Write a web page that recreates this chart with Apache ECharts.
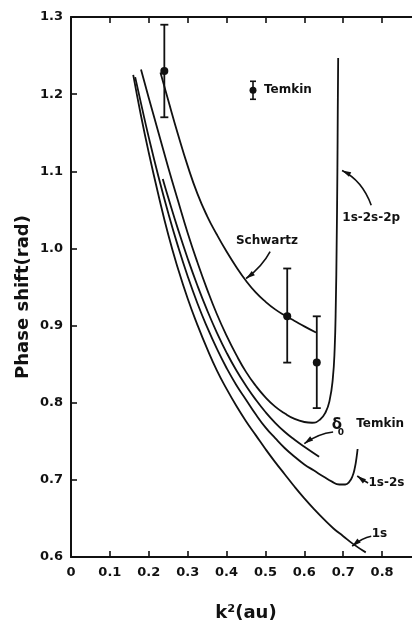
<!DOCTYPE html>
<html>
<head>
<meta charset="utf-8">
<script src="https://cdn.jsdelivr.net/npm/echarts@6/dist/echarts.min.js"></script>
<style>
  html, body { margin: 0; padding: 0; background: #fff; }
  #chart { width: 412px; height: 623px; }
</style>
</head>
<body>
<div id="chart"></div>
<script>
// Phase shift (rad) versus k^2 (au) for several close-coupling approximations
const xTicks = [0, 0.1, 0.2, 0.3, 0.4, 0.5, 0.6, 0.7, 0.8];
const yTicks = [0.6, 0.7, 0.8, 0.9, 1.0, 1.1, 1.2, 1.3];

const curve1s = [
  [0.16, 1.225], [0.18, 1.172], [0.20, 1.124], [0.225, 1.069], [0.25, 1.018],
  [0.275, 0.974], [0.30, 0.935], [0.325, 0.901], [0.35, 0.870], [0.375, 0.842],
  [0.40, 0.818], [0.425, 0.796], [0.45, 0.776], [0.475, 0.758], [0.50, 0.740],
  [0.525, 0.723], [0.55, 0.707], [0.575, 0.691], [0.60, 0.676], [0.625, 0.662],
  [0.65, 0.649], [0.675, 0.637], [0.70, 0.627], [0.725, 0.617], [0.758, 0.606]
];
const curve1s2s = [
  [0.165, 1.222], [0.18, 1.188], [0.20, 1.144], [0.225, 1.093], [0.25, 1.046],
  [0.275, 1.003], [0.30, 0.964], [0.325, 0.929], [0.35, 0.898], [0.375, 0.870],
  [0.40, 0.845], [0.425, 0.823], [0.45, 0.804], [0.475, 0.785], [0.50, 0.768],
  [0.525, 0.754], [0.55, 0.741], [0.575, 0.730], [0.60, 0.720], [0.625, 0.712],
  [0.65, 0.704], [0.67, 0.698], [0.69, 0.694], [0.705, 0.694], [0.715, 0.697],
  [0.724, 0.705], [0.730, 0.716], [0.734, 0.728], [0.737, 0.740]
];
const curveTemkin = [
  [0.236, 1.090], [0.25, 1.066], [0.275, 1.025], [0.30, 0.987], [0.325, 0.952],
  [0.35, 0.920], [0.375, 0.891], [0.40, 0.865], [0.425, 0.842], [0.45, 0.822],
  [0.475, 0.804], [0.50, 0.788], [0.525, 0.774], [0.55, 0.762], [0.575, 0.752],
  [0.60, 0.743], [0.638, 0.730]
];
const curve1s2s2p = [
  [0.18, 1.232], [0.20, 1.195], [0.225, 1.150], [0.25, 1.105], [0.275, 1.062],
  [0.30, 1.020], [0.325, 0.982], [0.35, 0.947], [0.375, 0.915], [0.40, 0.887],
  [0.425, 0.862], [0.45, 0.840], [0.475, 0.822], [0.50, 0.807], [0.525, 0.795],
  [0.55, 0.786], [0.575, 0.779], [0.60, 0.775], [0.62, 0.774], [0.64, 0.778],
  [0.655, 0.788], [0.665, 0.803], [0.673, 0.830], [0.678, 0.870], [0.681, 0.930],
  [0.683, 1.000], [0.685, 1.100], [0.686, 1.180], [0.687, 1.247]
];
const curveSchwartz = [
  [0.23, 1.228], [0.25, 1.192], [0.275, 1.148], [0.30, 1.107], [0.325, 1.071],
  [0.35, 1.042], [0.375, 1.018], [0.40, 0.996], [0.425, 0.976], [0.45, 0.958],
  [0.475, 0.943], [0.50, 0.931], [0.525, 0.921], [0.55, 0.913], [0.575, 0.906],
  [0.60, 0.899], [0.63, 0.891]
];

// Temkin points: k^2, value, lower, upper
const temkinK = [0.24, 0.556, 0.632];
const temkinVal = [1.23, 0.912, 0.852];
const temkinLow = [1.17, 0.852, 0.793];
const temkinHigh = [1.29, 0.974, 0.912];

// Curve labels with leader arrows: text anchor, arrow start, bend, tip (data units)
const notes = [
  { text: 'Schwartz', at: [0.504, 1.010], from: [0.512, 0.996], ctrl: [0.4915, 0.9766], tip: [0.4503, 0.961] },
  { text: '1s-2s-2p', at: [0.772, 1.039], from: [0.772, 1.056], ctrl: [0.749, 1.088], tip: [0.697, 1.101] },
  { text: 'Temkin', delta: [0.684, 0.771], at: [0.795, 0.773], from: [0.674, 0.762], ctrl: [0.636, 0.760], tip: [0.600, 0.747] },
  { text: '1s-2s', at: [0.811, 0.696], from: [0.764, 0.696], ctrl: [0.752, 0.699], tip: [0.736, 0.705] },
  { text: '1s', at: [0.793, 0.630], from: [0.772, 0.627], ctrl: [0.749, 0.625], tip: [0.723, 0.614] }
];
const legendAt = [0.468, 1.205];

const INK = '#111';
const FONT = '"DejaVu Sans", "Liberation Sans", sans-serif';

function lineSeries(name, data) {
  return {
    name: name, type: 'line', data: data, smooth: 0.5, showSymbol: false,
    lineStyle: { color: INK, width: 1.8 }, silent: true, z: 3
  };
}

const chart = echarts.init(document.getElementById('chart'), null, { renderer: 'canvas' });

const errorSeries = {
  type: 'custom', z: 5, silent: true,
  data: temkinK.map((k, i) => [k, temkinVal[i], temkinLow[i], temkinHigh[i]]),
  renderItem: function (params, api) {
    const c = api.coord([api.value(0), api.value(1)]);
    const lo = api.coord([api.value(0), api.value(2)]);
    const hi = api.coord([api.value(0), api.value(3)]);
    const st = { stroke: INK, lineWidth: 1.8 };
    return {
      type: 'group', children: [
        { type: 'line', shape: { x1: lo[0], y1: lo[1], x2: hi[0], y2: hi[1] }, style: st },
        { type: 'line', shape: { x1: lo[0] - 4, y1: lo[1], x2: lo[0] + 4, y2: lo[1] }, style: st },
        { type: 'line', shape: { x1: hi[0] - 4, y1: hi[1], x2: hi[0] + 4, y2: hi[1] }, style: st },
        { type: 'circle', shape: { cx: c[0], cy: c[1], r: 4 }, style: { fill: INK } }
      ]
    };
  }
};

function arrowHead(tip, ctrl) {
  const dx = tip[0] - ctrl[0], dy = tip[1] - ctrl[1];
  const len = Math.sqrt(dx * dx + dy * dy) || 1;
  const ux = dx / len, uy = dy / len;
  const bx = tip[0] - ux * 9, by = tip[1] - uy * 9;
  const px = -uy * 2.6, py = ux * 2.6;
  return [[tip[0], tip[1]], [bx + px, by + py], [bx - px, by - py]];
}

const noteSeries = {
  type: 'custom', z: 6, silent: true,
  data: notes.map((n, i) => [i]),
  renderItem: function (params, api) {
    const n = notes[params.dataIndex];
    const a = api.coord(n.at), f = api.coord(n.from), c = api.coord(n.ctrl), t = api.coord(n.tip);
    const children = [
      { type: 'bezierCurve', shape: { x1: f[0], y1: f[1], cpx1: c[0], cpy1: c[1], x2: t[0], y2: t[1] },
        style: { stroke: INK, lineWidth: 1.6, fill: null } },
      { type: 'polygon', shape: { points: arrowHead(t, c) }, style: { fill: INK } },
      { type: 'text', x: a[0], y: a[1],
        style: { text: n.text, font: 'bold 12px ' + FONT, fill: INK, align: 'center', verticalAlign: 'middle' } }
    ];
    if (n.delta) {
      const d = api.coord(n.delta);
      children.push({ type: 'text', x: d[0], y: d[1],
        style: { text: 'δ', font: 'bold 15px ' + FONT, fill: INK, align: 'center', verticalAlign: 'middle' } });
      children.push({ type: 'text', x: d[0] + 4, y: d[1] + 8,
        style: { text: '0', font: 'bold 9px ' + FONT, fill: INK, align: 'center', verticalAlign: 'middle' } });
    }
    return { type: 'group', children: children };
  }
};

const legendSeries = {
  type: 'custom', z: 6, silent: true,
  data: [legendAt],
  renderItem: function (params, api) {
    const p = api.coord([api.value(0), api.value(1)]);
    const st = { stroke: INK, lineWidth: 1.6 };
    return {
      type: 'group', children: [
        { type: 'line', shape: { x1: p[0], y1: p[1] - 9, x2: p[0], y2: p[1] + 9 }, style: st },
        { type: 'line', shape: { x1: p[0] - 3, y1: p[1] - 9, x2: p[0] + 3, y2: p[1] - 9 }, style: st },
        { type: 'line', shape: { x1: p[0] - 3, y1: p[1] + 9, x2: p[0] + 3, y2: p[1] + 9 }, style: st },
        { type: 'circle', shape: { cx: p[0], cy: p[1], r: 3.5 }, style: { fill: INK } },
        { type: 'text', x: p[0] + 11, y: p[1],
          style: { text: 'Temkin', font: 'bold 12px ' + FONT, fill: INK, align: 'left', verticalAlign: 'middle' } }
      ]
    };
  }
};

const axisCommon = {
  type: 'value',
  axisLine: { show: true, lineStyle: { color: INK, width: 2 } },
  axisTick: { show: true, inside: true, length: 6, lineStyle: { color: INK, width: 1.6 } },
  splitLine: { show: false }
};

chart.setOption({
  animation: false,
  backgroundColor: '#fff',
  grid: { left: 71, top: 17, right: -9, bottom: 66, containLabel: false, outerBoundsMode: 'none' },
  graphic: [{
    type: 'text', x: 23, y: 297, rotation: Math.PI / 2,
    style: { text: 'Phase shift(rad)', font: 'bold 18px ' + FONT, fill: INK, align: 'center', verticalAlign: 'middle' }
  }],
  xAxis: [
    Object.assign({}, axisCommon, {
      position: 'bottom', min: 0, max: 0.9, interval: 0.1,
      name: 'k²(au)', nameLocation: 'middle', nameGap: 47,
      nameTextStyle: { color: INK, fontFamily: FONT, fontWeight: 'bold', fontSize: 18 },
      axisLabel: {
        color: INK, fontFamily: FONT, fontWeight: 'bold', fontSize: 13, margin: 9,
        formatter: v => (xTicks.some(t => Math.abs(t - v) < 1e-6) ? (v === 0 ? '0' : v.toFixed(1)) : '')
      }
    }),
    Object.assign({}, axisCommon, {
      position: 'top', min: 0, max: 0.9, interval: 0.1, axisLabel: { show: false }
    })
  ],
  yAxis: [
    Object.assign({}, axisCommon, {
      position: 'left', min: 0.6, max: 1.3, interval: 0.1,
      axisLabel: {
        color: INK, fontFamily: FONT, fontWeight: 'bold', fontSize: 13, margin: 8,
        formatter: v => (yTicks.some(t => Math.abs(t - v) < 1e-6) ? v.toFixed(1) : '')
      }
    })
  ],
  series: [
    lineSeries('1s', curve1s),
    lineSeries('1s-2s', curve1s2s),
    lineSeries('δ0 Temkin', curveTemkin),
    lineSeries('1s-2s-2p', curve1s2s2p),
    lineSeries('Schwartz', curveSchwartz),
    errorSeries,
    noteSeries,
    legendSeries
  ]
});
</script>
</body>
</html>
